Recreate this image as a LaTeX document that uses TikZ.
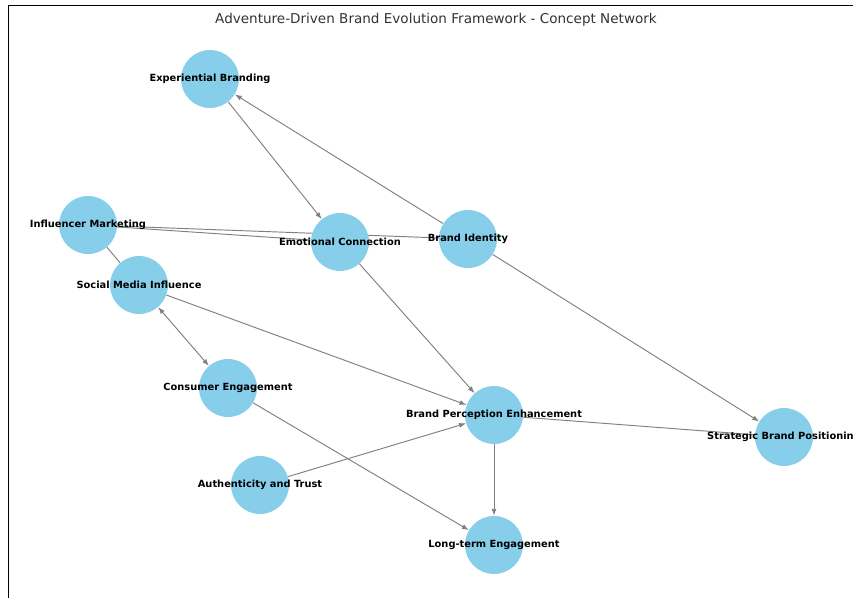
\documentclass[tikz,border=0pt]{standalone}
\usepackage{fontspec}
\setmainfont{DejaVu Sans}
\usetikzlibrary{arrows.meta,backgrounds}
\definecolor{nodecol}{HTML}{87CEEB}
\definecolor{edgecol}{HTML}{808080}

\begin{document}
\begin{tikzpicture}[>={Latex[length=7bp,width=5bp]},line join=bevel,
  concept/.style={circle,fill=nodecol,minimum size=58bp,inner sep=0pt},
  conceptname/.style={font=\fontsize{9.9}{11}\selectfont\bfseries,inner sep=0pt},
  link/.style={draw=edgecol,line width=0.95bp}]
  \useasboundingbox (0bp,0bp) rectangle (853bp,598bp);
  \clip (0bp,0bp) rectangle (853bp,598bp);
%%
  % Frame and title
  \draw [line width=0.8bp] (8.5bp,0bp) -- (8.5bp,592.5bp) -- (853bp,592.5bp);
  \node [font=\fontsize{13.6}{15}\selectfont,text=black!80] (title) at (436bp,578bp)
    {Adventure-Driven Brand Evolution Framework - Concept Network};
  % Node: Experiential Branding
  \node [concept,label={[conceptname]center:Experiential Branding}] (eb) at (210bp,519bp) {};
  % Node: Influencer Marketing
  \node [concept,label={[conceptname]center:Influencer Marketing}] (im) at (88bp,373bp) {};
  % Node: Emotional Connection
  \node [concept,label={[conceptname]center:Emotional Connection}] (ec) at (340bp,356bp) {};
  % Node: Brand Identity
  \node [concept,label={[conceptname]center:Brand Identity}] (bi) at (468bp,359bp) {};
  % Node: Social Media Influence
  \node [concept,label={[conceptname]center:Social Media Influence}] (smi) at (139bp,313bp) {};
  % Node: Consumer Engagement
  \node [concept,label={[conceptname]center:Consumer Engagement}] (ce) at (228bp,210bp) {};
  % Node: Brand Perception Enhancement
  \node [concept,label={[conceptname]center:Brand Perception Enhancement}] (bpe) at (494bp,183bp) {};
  % Node: Strategic Brand Positioning
  \node [concept,label={[conceptname]center:Strategic Brand Positioning}] (sbp) at (784bp,161bp) {};
  % Node: Authenticity and Trust
  \node [concept,label={[conceptname]center:Authenticity and Trust}] (at) at (260bp,113bp) {};
  % Node: Long-term Engagement
  \node [concept,label={[conceptname]center:Long-term Engagement}] (le) at (494bp,53bp) {};
%
\begin{pgfonlayer}{background}
  % Edge: Experiential Branding -> Emotional Connection
  \draw [link,->] (eb) -- (ec);
  % Edge: Brand Identity -> Experiential Branding
  \draw [link,->] (bi) -- (eb);
  % Edge: Influencer Marketing -- Emotional Connection
  \draw [link] (im) -- (ec);
  % Edge: Influencer Marketing -- Brand Identity
  \draw [link] (im) -- (bi);
  % Edge: Influencer Marketing -- Social Media Influence
  \draw [link] (im) -- (smi);
  % Edge: Social Media Influence <-> Consumer Engagement
  \draw [link,<->] (smi) -- (ce);
  % Edge: Social Media Influence -> Brand Perception Enhancement
  \draw [link,->] (smi) -- (bpe);
  % Edge: Emotional Connection -> Brand Perception Enhancement
  \draw [link,->] (ec) -- (bpe);
  % Edge: Authenticity and Trust -> Brand Perception Enhancement
  \draw [link,->] (at) -- (bpe);
  % Edge: Consumer Engagement -> Long-term Engagement
  \draw [link,->] (ce) -- (le);
  % Edge: Brand Perception Enhancement -> Long-term Engagement
  \draw [link,->] (bpe) -- (le);
  % Edge: Brand Identity -> Strategic Brand Positioning
  \draw [link,->] (bi) -- (sbp);
  % Edge: Brand Perception Enhancement -- Strategic Brand Positioning
  \draw [link] (bpe) -- (sbp);
\end{pgfonlayer}
%
\end{tikzpicture}
\end{document}
